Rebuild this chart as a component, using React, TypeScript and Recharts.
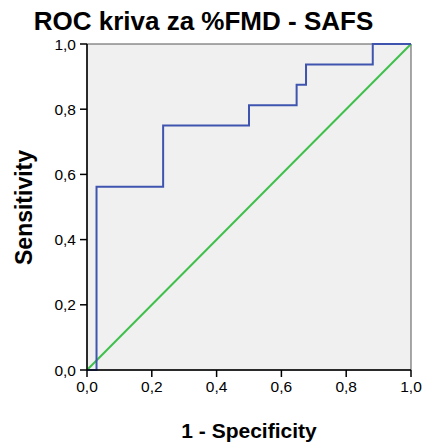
import React from "react"
import { LineChart, Line, XAxis, YAxis, CartesianGrid, ReferenceArea } from "recharts"

// ROC curve points (1 - specificity, sensitivity)
const fpr = [0, 0.0294, 0.235, 0.5, 0.647, 0.676, 0.882, 1]
const tpr = [0, 0.5625, 0.75, 0.8125, 0.875, 0.9375, 1, 1]
const refLine = [0, 1]
const ticks = [0, 0.2, 0.4, 0.6, 0.8, 1]

const rocData = fpr.map((x, i) => ({ x, y: tpr[i] }))
const diagData = refLine.map((v) => ({ x: v, y: v }))

const fmt = (v: number) => v.toFixed(1).replace(".", ",")
const font = "'Liberation Sans', Arial, sans-serif"

export default function App() {
  return (
    <div style={{ position: "absolute", left: 0, top: 0, width: 425, height: 444, background: "#fff", fontFamily: font }}>
      <LineChart width={425} height={444} margin={{ top: 44, right: 14, bottom: 0, left: 0 }}>
        <CartesianGrid fill="#f0f0f0" horizontal={false} vertical={false} />
        <XAxis
          type="number"
          dataKey="x"
          domain={[0, 1]}
          ticks={ticks}
          tickFormatter={fmt}
          height={74}
          tickSize={7}
          tickMargin={4}
          stroke="#000"
          strokeWidth={1.5}
          tick={{ fill: "#000", fontSize: 15.5, fontFamily: font }}
          label={{ value: "1 - Specificity", position: "insideBottom", offset: 6, fill: "#000", fontSize: 21, fontWeight: "bold", fontFamily: font }}
        />
        <YAxis
          type="number"
          dataKey="y"
          domain={[0, 1]}
          ticks={ticks}
          tickFormatter={fmt}
          width={87}
          tickSize={7}
          tickMargin={4}
          stroke="#000"
          strokeWidth={1.5}
          tick={{ fill: "#000", fontSize: 15.5, fontFamily: font }}
          label={{ value: "Sensitivity", angle: -90, position: "insideLeft", offset: 24, dy: 58, fill: "#000", fontSize: 23, fontWeight: "bold", fontFamily: font }}
        />
        <Line
          data={diagData}
          dataKey="y"
          type="linear"
          stroke="#3fc04b"
          strokeWidth={2}
          dot={false}
          isAnimationActive={false}
        />
        <Line
          data={rocData}
          dataKey="y"
          type="stepAfter"
          stroke="#3e54ae"
          strokeWidth={2}
          dot={false}
          isAnimationActive={false}
        />
        <ReferenceArea x1={0} x2={1} y1={0} y2={1} fill="none" stroke="#555" strokeWidth={1} />
      </LineChart>
      <div
        style={{
          position: "absolute",
          top: 10,
          left: 0,
          width: 407,
          textAlign: "center",
          fontSize: 26,
          fontWeight: "bold",
          lineHeight: "22px",
          color: "#000",
          whiteSpace: "nowrap",
        }}
      >
        ROC kriva za %FMD - SAFS
      </div>
    </div>
  )
}
